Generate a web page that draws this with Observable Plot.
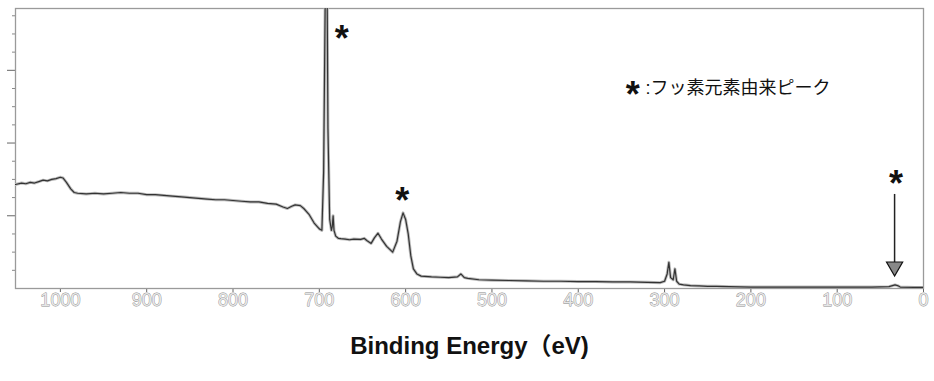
<!DOCTYPE html>
<html>
<head>
<meta charset="utf-8">
<script src="https://cdn.jsdelivr.net/npm/d3@7"></script>
<script src="https://cdn.jsdelivr.net/npm/@observablehq/plot@0.6"></script>
<style>
  html, body { margin: 0; padding: 0; background: #fff; }
  #chart { width: 934px; height: 381px; }
</style>
</head>
<body>
<div id="chart"></div>
<script>
// Binding energy (eV) and intensity (arbitrary units)
const energy = [1052,1045,1040,1035,1030,1025,1020,1015,1010,1005,1000,997,993,988,984,980,970,960,950,940,930,920,910,900,890,880,870,860,850,840,830,820,810,800,790,780,770,760,750,742,737,732,728,722,718,712,706,700,697,695,693,691,690,688,686,685,684,683,681,678,675,670,665,660,652,648,645,640,636,632,628,622,615,610,606,603,600,597,594,591,587,582,570,560,550,540,536,532,528,515,500,480,460,440,420,400,380,360,340,320,305,300,297,295,293,290,288,286,283,278,270,260,250,240,225,200,150,100,60,40,33,30,27,10,0];
const intensity = [1.43,1.45,1.44,1.46,1.45,1.47,1.49,1.48,1.50,1.51,1.53,1.52,1.46,1.37,1.32,1.31,1.30,1.31,1.30,1.31,1.32,1.31,1.31,1.29,1.29,1.28,1.27,1.26,1.25,1.24,1.23,1.22,1.22,1.21,1.20,1.19,1.19,1.17,1.16,1.12,1.10,1.13,1.15,1.14,1.10,1.02,0.90,0.82,0.80,1.6,4.2,4.2,2.2,0.95,0.80,0.85,1.00,0.80,0.72,0.69,0.685,0.68,0.67,0.68,0.675,0.69,0.66,0.62,0.70,0.76,0.68,0.58,0.50,0.65,0.92,1.04,0.95,0.75,0.45,0.27,0.20,0.17,0.16,0.155,0.15,0.16,0.20,0.15,0.14,0.12,0.115,0.11,0.105,0.10,0.10,0.095,0.095,0.09,0.09,0.085,0.08,0.10,0.20,0.36,0.15,0.12,0.27,0.10,0.06,0.05,0.04,0.035,0.03,0.03,0.025,0.02,0.02,0.02,0.02,0.025,0.05,0.04,0.02,0.015,0.015];

const xTicks = [1000,900,800,700,600,500,400,300,200,100,0];
const xTickLabels = ["1000","900","800","700","600","500","400","300","200","100","0"];
const yMajorTicks = [1,2,3];
const yMinorTicks = [0.25,0.5,0.75,1.25,1.5,1.75,2.25,2.5,2.75,3.25,3.5,3.75];

// Fluorine peak markers (energy, intensity) and the arrow to the F2s peak
const starEnergy = [674, 604, 32];
const starIntensity = [3.51, 1.28, 1.51];
const arrowEnergy = [33.5];
const arrowFrom = [1.30];
const arrowTo = [0.30];
const legendStar = ["*"];
const legendText = [":フッ素元素由来ピーク"];
const axisTitle = ["Binding Energy（eV)"];

const spectrum = energy.map((e, i) => ({e, v: intensity[i]}));
const tickData = xTicks.map((t, i) => ({t, label: xTickLabels[i]}));
const stars = starEnergy.map((e, i) => ({e, v: starIntensity[i]}));
const arrows = arrowEnergy.map((e, i) => ({e, v1: arrowFrom[i], v2: arrowTo[i]}));

const noLabel = () => "";

const chart = Plot.plot({
  width: 934,
  height: 381,
  marginTop: 8,
  marginBottom: 93,
  marginLeft: 15,
  marginRight: 11,
  style: {fontFamily: "Liberation Sans, Arial, sans-serif", background: "#fff"},
  x: {domain: [1052, 0], axis: null},
  y: {domain: [0, 3.85], axis: null},
  marks: [
    Plot.axisY({ticks: yMinorTicks, tickSize: 3, tickFormat: noLabel, stroke: "#888"}),
    Plot.axisY({ticks: yMajorTicks, tickSize: 8, tickFormat: noLabel, stroke: "#666"}),
    Plot.axisX({ticks: xTicks, tickSize: 4, tickFormat: noLabel, stroke: "#666"}),
    Plot.text(tickData, {x: "t", text: "label", frameAnchor: "bottom", dy: 17, fontSize: 18, fill: "#e6e6e6", stroke: "#8a8a8a", strokeWidth: 0.8, letterSpacing: "1.5px"}),
    Plot.frame({stroke: "#9a9a9a", strokeWidth: 1.3}),
    Plot.line(spectrum, {x: "e", y: "v", stroke: "#bdbdbd", strokeWidth: 3, clip: true}),
    Plot.line(spectrum, {x: "e", y: "v", stroke: "#333", strokeWidth: 1.2, clip: true}),
    Plot.link(arrows, {x1: "e", x2: "e", y1: "v1", y2: "v2", stroke: "#222", strokeWidth: 1.5}),
    Plot.dot(arrows, {x: "e", y: "v2", symbol: "triangle", rotate: 180, r: 6, fill: "#888", stroke: "#111", strokeWidth: 1.2}),
    Plot.text(stars, {x: "e", y: "v", text: () => "*", fontSize: 36, fontWeight: "bold", fill: "#111", dy: 6}),
    Plot.text(legendStar, {x: 337, y: 2.75, text: d => d, fontSize: 36, fontWeight: "bold", fill: "#111", dy: 7}),
    Plot.text(legendText, {x: 322, y: 2.75, text: d => d, textAnchor: "start", fontSize: 18, fill: "#111", fontFamily: "Liberation Sans, Noto Sans CJK JP, sans-serif"}),
    Plot.text(axisTitle, {frameAnchor: "bottom", dy: 65, text: d => d, fontSize: 24, fontWeight: "bold", fill: "#111", fontFamily: "Liberation Sans, Noto Sans CJK JP, sans-serif"})
  ]
});
document.getElementById("chart").appendChild(chart);
</script>
</body>
</html>
